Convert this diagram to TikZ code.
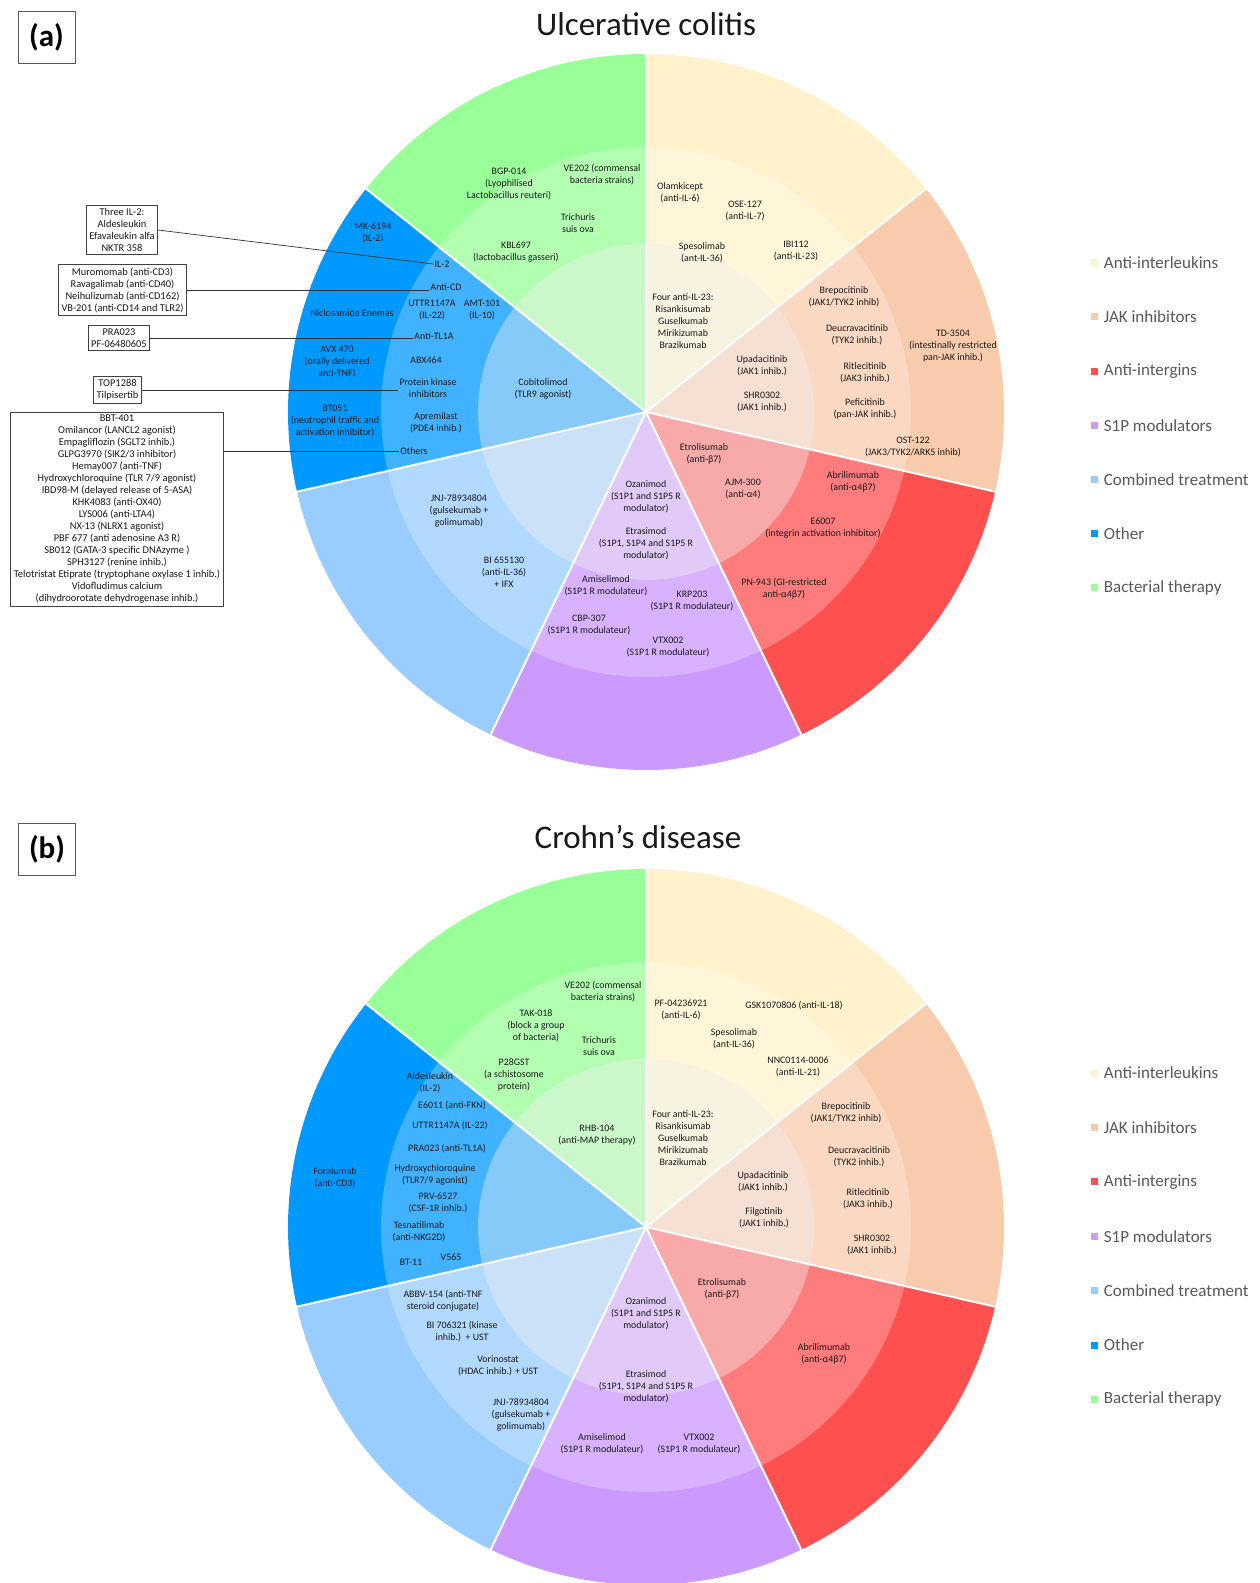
\documentclass[tikz,border=0pt]{standalone}
\usepackage{fontspec}
\setmainfont{Carlito}
\usetikzlibrary{positioning}

\definecolor{cIl}{HTML}{FFF2CC}
\definecolor{cJak}{HTML}{F8CBAD}
\definecolor{cInteg}{HTML}{FF5050}
\definecolor{cSop}{HTML}{CC99FF}
\definecolor{cComb}{HTML}{99CCFF}
\definecolor{cOther}{HTML}{0099FF}
\definecolor{cBact}{HTML}{99FF99}
\definecolor{innerbase}{HTML}{F2F2F2}
\definecolor{legtext}{HTML}{595959}

\begin{document}
\begin{tikzpicture}[
		x=1pt, y=1pt,
		lbl/.style={font=\fontsize{9.9}{12}\selectfont, align=center, text=black!90, inner sep=1pt},
		infobox/.style={draw=black!75, line width=0.7pt, font=\fontsize{10.4}{12}\selectfont, align=center, text=black!90, inner sep=3pt},
		leader/.style={draw=black!80, line width=0.7pt},
		title/.style={font=\fontsize{33}{38}\selectfont, text=black!90},
		tag/.style={draw=black!65, line width=0.8pt, minimum width=57pt, minimum height=52pt, font=\fontsize{31}{34}\selectfont\bfseries},
		legsq/.style={minimum size=7pt, inner sep=0pt},
		legtxt/.style={font=\fontsize{17}{20}\selectfont, text=legtext, inner sep=0pt, anchor=west}
		]
		
		\useasboundingbox (0,0) rectangle (1260,-1583);
		\fill[white] (0,0) rectangle (1260,-1583);
		
		% ==========================================
		% the two wheels (7 equal sectors, 3 rings)
		% ==========================================
		\foreach \cy in {-412,-1227} {
			\begin{scope}[shift={(646,\cy)}]
				\foreach \col [count=\i from 0] in {cBact,cOther,cComb,cSop,cInteg,cJak,cIl} {
					\pgfmathsetmacro\a{90+\i*360/7}
					\pgfmathsetmacro\b{\a+360/7}
					\fill[\col] (0,0) -- (\a:358) arc[start angle=\a, end angle=\b, radius=358] -- cycle;
					\fill[\col!75!white] (0,0) -- (\a:265) arc[start angle=\a, end angle=\b, radius=265] -- cycle;
					\fill[\col!45!innerbase] (0,0) -- (\a:168) arc[start angle=\a, end angle=\b, radius=168] -- cycle;
				}
				\foreach \i in {0,...,6}
					\draw[white, line width=2pt] (0,0) -- (90+\i*360/7:358);
			\end{scope}
		}
		
		% ==========================================
		% (a) ULCERATIVE COLITIS
		% ==========================================
		\node[tag] (taga) at (46.5,-37.5) {(a)};
		\node[title] (titlea) at (646,-24) {Ulcerative colitis};
		
		% bacterial therapy
		\node[lbl] (bgp) at (509,-184) {BGP-014\\(Lyophilised\\Lactobacillus reuteri)};
		\node[lbl] (vea) at (602,-175) {VE202 (commensal\\bacteria strains)};
		\node[lbl] (tricha) at (578,-223) {Trichuris\\suis ova};
		\node[lbl] (kbl) at (516,-252) {KBL697\\(lactobacillus gasseri)};
		
		% other
		\node[lbl] (mk) at (373,-233) {MK-6194\\(IL-2)};
		\node[lbl] (il2) at (442,-264) {IL-2};
		\node[lbl] (anticd) at (446,-287) {Anti-CD};
		\node[lbl] (uttra) at (432,-310) {UTTR1147A\\(IL-22)};
		\node[lbl] (amt) at (482,-310) {AMT-101\\(IL-10)};
		\node[lbl] (niclo) at (352,-313) {Niclosamide Enemas};
		\node[lbl] (tl1a) at (434,-336) {Anti-TL1A};
		\node[lbl] (avx) at (337,-362) {AVX 470\\(orally delivered\\anti-TNF)};
		\node[lbl] (abx) at (426,-360) {ABX464};
		\node[lbl] (pki) at (428,-388) {Protein kinase\\inhibitors};
		\node[lbl] (cobi) at (543,-389) {Cobitolimod\\(TLR9 agonist)};
		\node[lbl] (bt051) at (335,-421) {BT051\\(neutrophil traffic and\\activation inhibitor)};
		\node[lbl] (apre) at (436,-423) {Apremilast\\(PDE4 inhib.)};
		\node[lbl] (others) at (414,-451) {Others};
		
		% combined treatment
		\node[lbl] (jnja) at (459,-511) {JNJ-78934804\\(gulsekumab +\\golimumab)};
		\node[lbl] (bisix) at (504,-572) {BI 655130\\(anti-IL-36)\\+ IFX};
		
		% S1P modulators
		\node[lbl] (ozaa) at (646,-497) {Ozanimod\\(S1P1 and S1P5 R\\modulator)};
		\node[lbl] (etraa) at (646,-544) {Etrasimod\\(S1P1, S1P4 and S1P5 R\\modulator)};
		\node[lbl] (amia) at (606,-586) {Amiselimod\\(S1P1 R modulateur)};
		\node[lbl] (krp) at (692,-601) {KRP203\\(S1P1 R modulateur)};
		\node[lbl] (cbp) at (589,-625) {CBP-307\\(S1P1 R modulateur)};
		\node[lbl] (vtxa) at (668,-647) {VTX002\\(S1P1 R modulateur)};
		
		% anti-integrins
		\node[lbl] (etroa) at (704,-454) {Etrolisumab\\(anti-β7)};
		\node[lbl] (ajm) at (743,-489) {AJM-300\\(anti-α4)};
		\node[lbl] (abria) at (853,-482) {Abrilimumab\\(anti-α4β7)};
		\node[lbl] (esix) at (823,-528) {E6007\\(integrin activation inhibitor)};
		\node[lbl] (pn) at (784,-589) {PN-943 (GI-restricted\\anti-α4β7)};
		
		% JAK inhibitors
		\node[lbl] (brepa) at (844,-297) {Brepocitinib\\(JAK1/TYK2 inhib)};
		\node[lbl] (deuca) at (857,-335) {Deucravacitinib\\(TYK2 inhib.)};
		\node[lbl] (td) at (953,-346) {TD-3504\\(intestinally restricted\\pan-JAK inhib.)};
		\node[lbl] (upaa) at (762,-366) {Upadacitinib\\(JAK1 inhib.)};
		\node[lbl] (ritla) at (865,-373) {Ritlecitinib\\(JAK3 inhib.)};
		\node[lbl] (shra) at (762,-402) {SHR0302\\(JAK1 inhib.)};
		\node[lbl] (pefi) at (865,-409) {Peficitinib\\(pan-JAK inhib.)};
		\node[lbl] (ost) at (913,-447) {OST-122\\(JAK3/TYK2/ARK5 inhib)};
		
		% anti-interleukins
		\node[lbl] (olam) at (680,-193) {Olamkicept\\(anti-IL-6)};
		\node[lbl] (ose) at (745,-211) {OSE-127\\(anti-IL-7)};
		\node[lbl] (spesa) at (702,-253) {Spesolimab\\(ant-IL-36)};
		\node[lbl] (ibi) at (796,-251) {IBI112\\(anti-IL-23)};
		\node[lbl] (foura) at (683,-321) {Four anti-IL-23:\\Risankisumab\\Guselkumab\\Mirikizumab\\Brazikumab};
		
		% detail boxes on the left
		\node[infobox] (boxil) at (122,-230) {Three IL-2:\\Aldesleukin\\Efavaleukin alfa\\NKTR 358};
		\node[infobox] (boxcd) at (122.5,-290) {Muromomab (anti-CD3)\\Ravagalimab (anti-CD40)\\Neihulizumab (anti-CD162)\\VB-201 (anti-CD14 and TLR2)};
		\node[infobox] (boxtl) at (119,-338) {PRA023\\PF-06480605};
		\node[infobox] (boxpk) at (117.5,-390) {TOP1288\\Tilpisertib};
		\node[infobox] (boxoth) at (117,-509.5) {BBT-401\\Omilancor (LANCL2 agonist)\\Empagliflozin (SGLT2 inhib.)\\GLPG3970 (SIK2/3 inhibitor)\\Hemay007 (anti-TNF)\\Hydroxychloroquine (TLR 7/9 agonist)\\IBD98-M (delayed release of 5-ASA)\\KHK4083 (anti-OX40)\\LYS006 (anti-LTA4)\\NX-13 (NLRX1 agonist)\\PBF 677 (anti adenosine A3 R)\\SB012 (GATA-3 specific DNAzyme )\\SPH3127 (renine inhib.)\\Telotristat Etiprate (tryptophane oxylase 1 inhib.)\\Vidofludimus calcium\\(dihydroorotate dehydrogenase inhib.)};
		
		\draw[leader] (boxil.east) -- (il2.west);
		\draw[leader] (boxcd.east) -- (boxcd.east -| anticd.west);
		\draw[leader] (boxtl.east) -- (boxtl.east -| tl1a.west);
		\draw[leader] (boxpk.east) -- (boxpk.east -| pki.west);
		\draw[leader] (boxoth.east |- others.west) -- (others.west);
		
		% legend
		\foreach \col/\txt [count=\i from 0] in {cIl/Anti-interleukins, cJak/JAK inhibitors, cInteg/Anti-intergins, cSop/S1P modulators, cComb/Combined treatment, cOther/Other, cBact/Bacterial therapy} {
			\node[legsq, fill=\col] (sqa\i) at (1094,-262.7-54.2*\i) {};
			\node[legtxt, right=6pt of sqa\i] (lega\i) {\txt};
		}
		
		% ==========================================
		% (b) CROHN'S DISEASE
		% ==========================================
		\node[tag] (tagb) at (47,-849.5) {(b)};
		\node[title] (titleb) at (638,-837) {Crohn’s disease};
		
		% bacterial therapy
		\node[lbl] (veb) at (603,-992) {VE202 (commensal\\bacteria strains)};
		\node[lbl] (tak) at (536,-1026) {TAK-018\\(block a group\\of bacteria)};
		\node[lbl] (trichb) at (599,-1046) {Trichuris\\suis ova};
		\node[lbl] (ptw) at (514,-1075) {P28GST\\(a schistosome\\protein)};
		\node[lbl] (rhb) at (597,-1135) {RHB-104\\(anti-MAP therapy)};
		
		% other
		\node[lbl] (aldes) at (430,-1083) {Aldesleukin\\(IL-2)};
		\node[lbl] (esixone) at (452,-1106) {E6011 (anti-FKN)};
		\node[lbl] (uttrb) at (450,-1126) {UTTR1147A (IL-22)};
		\node[lbl] (pra) at (447,-1149) {PRA023 (anti-TL1A)};
		\node[lbl] (hcq) at (435,-1175) {Hydroxychloroquine\\(TLR7/9 agonist)};
		\node[lbl] (prv) at (438,-1203) {PRV-6527\\(CSF-1R inhib.)};
		\node[lbl] (foral) at (335,-1178) {Foralumab\\(anti-CD3)};
		\node[lbl] (tesna) at (419,-1232) {Tesnatilimab\\(anti-NKG2D)};
		\node[lbl] (bteleven) at (411,-1262) {BT-11};
		\node[lbl] (vfive) at (451,-1257) {V565};
		
		% combined treatment
		\node[lbl] (abbv) at (443,-1301) {ABBV-154 (anti-TNF\\steroid conjugate)};
		\node[lbl] (biseven) at (462,-1332) {BI 706321 (kinase\\inhib.)\ \ + UST};
		\node[lbl] (vori) at (498,-1366) {Vorinostat\\(HDAC inhib.) + UST};
		\node[lbl] (jnjb) at (521,-1415) {JNJ-78934804\\(gulsekumab +\\golimumab)};
		
		% S1P modulators
		\node[lbl] (ozab) at (646,-1314) {Ozanimod\\(S1P1 and S1P5 R\\modulator)};
		\node[lbl] (etrab) at (646,-1387) {Etrasimod\\(S1P1, S1P4 and S1P5 R\\modulator)};
		\node[lbl] (amib) at (602,-1444) {Amiselimod\\(S1P1 R modulateur)};
		\node[lbl] (vtxb) at (699,-1444) {VTX002\\(S1P1 R modulateur)};
		
		% anti-integrins
		\node[lbl] (etrob) at (722,-1289) {Etrolisumab\\(anti-β7)};
		\node[lbl] (abrib) at (824,-1354) {Abrilimumab\\(anti-α4β7)};
		
		% JAK inhibitors
		\node[lbl] (brepb) at (846,-1113) {Brepocitinib\\(JAK1/TYK2 inhib)};
		\node[lbl] (deucb) at (859,-1157) {Deucravacitinib\\(TYK2 inhib.)};
		\node[lbl] (ritlb) at (868,-1199) {Ritlecitinib\\(JAK3 inhib.)};
		\node[lbl] (upab) at (763,-1182) {Upadacitinib\\(JAK1 inhib.)};
		\node[lbl] (filgo) at (764,-1218) {Filgotinib\\(JAK1 inhib.)};
		\node[lbl] (shrb) at (872,-1245) {SHR0302\\(JAK1 inhib.)};
		
		% anti-interleukins
		\node[lbl] (pfzero) at (681,-1010) {PF-04236921\\(anti-IL-6)};
		\node[lbl] (gsk) at (794,-1006) {GSK1070806 (anti-IL-18)};
		\node[lbl] (spesb) at (734,-1039) {Spesolimab\\(ant-IL-36)};
		\node[lbl] (nnc) at (798,-1067) {NNC0114-0006\\(anti-IL-21)};
		\node[lbl] (fourb) at (683,-1138) {Four anti-IL-23:\\Risankisumab\\Guselkumab\\Mirikizumab\\Brazikumab};
		
		% legend
		\foreach \col/\txt [count=\i from 0] in {cIl/Anti-interleukins, cJak/JAK inhibitors, cInteg/Anti-intergins, cSop/S1P modulators, cComb/Combined treatment, cOther/Other, cBact/Bacterial therapy} {
			\node[legsq, fill=\col] (sqb\i) at (1094,-1073-54.4*\i) {};
			\node[legtxt, right=6pt of sqb\i] (legb\i) {\txt};
		}
		
	\end{tikzpicture}
\end{document}
